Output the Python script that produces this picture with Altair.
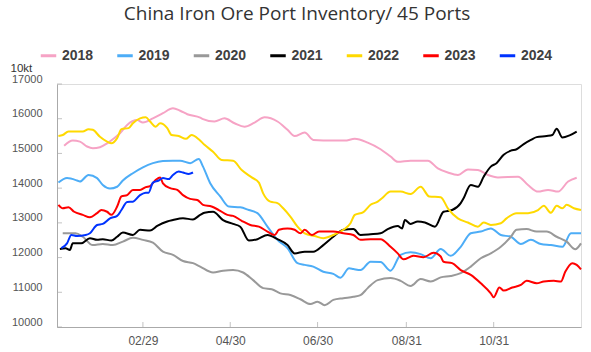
import altair as alt
import pandas as pd

years = ["2018", "2019", "2020", "2021", "2022", "2023", "2024"]
colors = ["#f6a3c5", "#4dadf7", "#999999", "#000000", "#ffd900", "#ff0000", "#0033ff"]

# day offsets since Dec 31 of previous year (Jan 1 = 1), values in 10kt
doy_2018 = [5, 11, 16, 21, 25, 30, 35, 39, 44, 49, 56, 60, 67, 74, 81, 86, 91, 100, 102, 110,
            117, 124, 131, 138, 145, 154, 161, 166, 173, 179, 193, 201, 208, 217, 226, 233, 238, 247, 259, 266,
            273, 280, 287, 294, 301, 308, 322, 329, 336, 343, 350, 357, 363]
val_2018 = [15220, 15370, 15340, 15200, 15150, 15180, 15290, 15410, 15580, 15820, 15960, 15890, 16010, 16160, 16300, 16230, 16130, 16030, 15990, 15920,
            16010, 15870, 15770, 15890, 16040, 15920, 15680, 15500, 15600, 15390, 15370, 15370, 15420, 15310, 15120, 14910, 14760, 14790, 14790, 14570,
            14450, 14380, 14540, 14520, 14380, 14310, 14330, 14090, 13900, 13950, 13900, 14190, 14300]

doy_2019 = [1, 7, 14, 16, 22, 28, 32, 37, 42, 46, 53, 60, 67, 74, 81, 86, 93, 99, 102, 107,
            114, 120, 128, 134, 140, 147, 154, 161, 168, 173, 179, 186, 193, 198, 204, 207, 212, 219, 226, 233,
            240, 247, 254, 261, 268, 275, 282, 289, 296, 303, 310, 317, 324, 331, 338, 345, 353, 359, 366]
val_2019 = [14160, 14290, 14220, 14190, 14380, 14290, 14090, 13990, 14040, 14220, 14430, 14600, 14720, 14780, 14790, 14790, 14720, 14840, 14620, 14140,
            13760, 13470, 13450, 13370, 13280, 12890, 12510, 12270, 11840, 11790, 11740, 11590, 11530, 11420, 11690, 11670, 11640, 11880, 11870, 11620,
            12080, 12150, 12100, 11980, 12250, 12050, 12310, 12700, 12750, 12840, 12650, 12600, 12390, 12510, 12390, 12360, 12310, 12700, 12700]

doy_2020 = [4, 13, 18, 25, 32, 39, 46, 53, 60, 67, 74, 81, 88, 95, 100, 109, 116, 123, 130, 137,
            144, 150, 156, 163, 170, 177, 182, 187, 193, 200, 207, 212, 217, 224, 233, 240, 247, 254, 261, 268,
            275, 282, 289, 296, 303, 310, 317, 321, 328, 335, 342, 349, 356, 362, 366]
val_2020 = [12700, 12700, 12600, 12360, 12390, 12360, 12460, 12570, 12510, 12430, 12170, 12080, 11900, 11840, 11740, 11570, 11620, 11640, 11570, 11350,
            11120, 11090, 10970, 10920, 10800, 10660, 10730, 10630, 10780, 10830, 10870, 10920, 11120, 11350, 11410, 11330, 11180, 11380, 11310, 11430,
            11470, 11550, 11740, 11980, 12120, 12310, 12600, 12800, 12820, 12750, 12750, 12600, 12460, 12240, 12410]

doy_2021 = [2, 6, 9, 11, 17, 23, 28, 32, 38, 42, 46, 53, 58, 65, 70, 77, 81, 88, 95, 100,
            103, 109, 116, 123, 128, 134, 140, 147, 154, 161, 166, 173, 179, 186, 193, 200, 207, 212, 219, 226,
            231, 238, 241, 243, 247, 252, 257, 264, 270, 276, 282, 284, 289, 294, 298, 303, 307, 312, 317, 321,
            326, 331, 335, 342, 346, 349, 353, 358, 363]
val_2021 = [12250, 12270, 12220, 12410, 12410, 12560, 12510, 12530, 12490, 12600, 12720, 12650, 12800, 12780, 12910, 13040, 13080, 13130, 13100, 13230,
            13290, 13320, 13080, 12970, 12890, 12490, 12530, 12650, 12530, 12360, 12120, 12170, 12170, 12360, 12600, 12800, 12820, 12650, 12670, 12700,
            12820, 12910, 12840, 13080, 12970, 13040, 13010, 12890, 13320, 13370, 13570, 13710, 14090, 14040, 14330, 14620, 14720, 14960, 15080, 15120,
            15270, 15390, 15470, 15500, 15530, 15710, 15460, 15520, 15630]

doy_2022 = [1, 4, 8, 14, 18, 22, 25, 30, 35, 38, 42, 45, 50, 53, 58, 62, 65, 69, 72, 77,
            80, 85, 90, 94, 99, 103, 109, 115, 123, 129, 136, 141, 144, 149, 154, 158, 163, 168, 173, 180,
            186, 193, 200, 205, 208, 214, 219, 224, 227, 233, 240, 247, 254, 260, 268, 273, 280, 287, 294, 298,
            303, 310, 314, 321, 329, 336, 340, 345, 349, 353, 356, 361, 366]
val_2022 = [15500, 15530, 15630, 15630, 15630, 15700, 15680, 15480, 15340, 15290, 15440, 15700, 15730, 15870, 16010, 16040, 15920, 15770, 15870, 15730,
            15530, 15500, 15420, 15530, 15410, 15250, 15050, 14810, 14790, 14520, 14310, 14160, 13850, 13610, 13570, 13420, 13180, 12890, 12700, 12620,
            12560, 12650, 12800, 12990, 13230, 13310, 13520, 13610, 13710, 13900, 13900, 13830, 14040, 13760, 13740, 13420, 13130, 13010, 12890, 13010,
            12940, 12990, 13130, 13280, 13280, 13370, 13490, 13290, 13490, 13420, 13520, 13420, 13370]

doy_2023 = [1, 4, 8, 12, 18, 23, 28, 31, 35, 38, 42, 45, 49, 53, 58, 62, 65, 69, 72, 74,
            79, 84, 88, 93, 98, 102, 108, 113, 119, 123, 129, 135, 141, 147, 152, 155, 161, 166, 170, 173,
            178, 183, 187, 193, 200, 207, 212, 219, 226, 233, 238, 242, 249, 256, 263, 268, 270, 276, 282, 289,
            296, 303, 305, 309, 312, 318, 324, 328, 335, 340, 347, 352, 355, 360, 363, 366]
val_2023 = [13520, 13420, 13450, 13320, 13230, 13160, 13280, 13370, 13320, 13230, 13470, 13760, 13800, 13950, 13950, 14030, 14060, 14240, 14310, 14140,
            14000, 13950, 13800, 13690, 13660, 13520, 13470, 13370, 13230, 13200, 13060, 12940, 12890, 12750, 12650, 12800, 12840, 12800, 12700, 12800,
            12650, 12750, 12750, 12750, 12700, 12650, 12510, 12530, 12530, 12310, 12120, 11950, 12050, 12010, 12140, 12030, 11880, 11840, 11640, 11500,
            11260, 10970, 10860, 11140, 11050, 11140, 11210, 11330, 11260, 11310, 11330, 11310, 11590, 11840, 11790, 11660]

doy_2024 = [3, 7, 10, 14, 20, 23, 28, 32, 37, 42, 45, 49, 53, 58, 62, 64, 67, 71, 74, 78, 81, 85, 88, 92, 95]
val_2024 = [12270, 12410, 12650, 12620, 12650, 12700, 12940, 12970, 13130, 13200, 13370, 13600, 13610, 13800, 13870, 13870, 14160, 14220, 14290, 14260,
            14380, 14480, 14450, 14410, 14450]

y_ticks = [10000, 11000, 12000, 13000, 14000, 15000, 16000, 17000]
x_tick_dates = ["2024-02-29", "2024-04-30", "2024-06-30", "2024-08-31", "2024-10-31"]

series = [("2018", doy_2018, val_2018), ("2019", doy_2019, val_2019), ("2020", doy_2020, val_2020),
          ("2021", doy_2021, val_2021), ("2022", doy_2022, val_2022), ("2023", doy_2023, val_2023),
          ("2024", doy_2024, val_2024)]

base = pd.Timestamp("2023-12-31")
rows = []
for yr, days, vals in series:
    for d, v in zip(days, vals):
        rows.append({"year": yr, "date": (base + pd.Timedelta(days=d)).strftime("%Y-%m-%d"), "value": v})
df = pd.DataFrame(rows)

W, H = 524, 243
LABEL_FONT = "Liberation Sans"

x_enc = alt.X(
    "date:T",
    scale=alt.Scale(type="utc", domain=[alt.DateTime(year=2023, month=12, date=31, utc=True),
                                        alt.DateTime(year=2024, month=12, date=31, utc=True)]),
    axis=alt.Axis(
        title=None, values=[alt.DateTime(year=int(s[:4]), month=int(s[5:7]), date=int(s[8:]), utc=True) for s in x_tick_dates],
        labelExpr="utcFormat(datum.value, '%m/%d')", grid=False, ticks=False, tickSize=0,
        domainColor="#aaaaaa", labelColor="#555555", labelFont=LABEL_FONT, labelFontSize=12,
        labelPadding=8,
    ),
)
y_enc = alt.Y(
    "value:Q",
    scale=alt.Scale(domain=[10000, 17000], nice=False, zero=False),
    axis=alt.Axis(
        title="10kt", titleAngle=0, titleAlign="left", titleBaseline="middle", titleX=-47, titleY=-16,
        titleFont=LABEL_FONT, titleFontSize=11.5, titleFontWeight="normal", titleColor="#333333",
        values=y_ticks, format="d", grid=False, ticks=False, tickSize=0,
        domainColor="#aaaaaa", labelColor="#555555", labelFont=LABEL_FONT, labelFontSize=11,
        labelPadding=15, labelOffset=-5,
    ),
)

lines = alt.Chart(df).mark_line(strokeWidth=2, interpolate="monotone").encode(
    x=x_enc,
    y=y_enc,
    color=alt.Color(
        "year:N",
        scale=alt.Scale(domain=years, range=colors),
        legend=alt.Legend(
            title=None, orient="none", legendX=-18, legendY=-38, direction="horizontal", columns=7,
            symbolType="stroke", symbolStrokeWidth=3, symbolSize=240,
            labelFont=LABEL_FONT, labelFontSize=14, labelFontWeight="bold", labelColor="#404040",
            labelOffset=4, columnPadding=16.5, padding=0,
        ),
    ),
)

ytick_df = pd.DataFrame({"value": y_ticks})
yticks = alt.Chart(ytick_df).mark_tick(orient="horizontal", color="#aaaaaa", thickness=1, size=5).encode(
    y=y_enc, x=alt.value(2.5)
)
xtick_df = pd.DataFrame({"date": x_tick_dates})
xticks = alt.Chart(xtick_df).mark_tick(orient="vertical", color="#aaaaaa", thickness=1, size=5).encode(
    x=x_enc, y=alt.value(H - 2.5)
)

chart = alt.layer(yticks, xticks, lines).properties(
    width=W, height=H,
    title=alt.TitleParams(
        "China Iron Ore Port Inventory/ 45 Ports", font="Open Sans", fontSize=19, fontWeight="normal",
        color="#333333", anchor="middle", dx=-22, offset=22,
    ),
    autosize=alt.AutoSizeParams(type="none"),
    padding={"left": 57, "top": 84, "right": 10, "bottom": 25},
).configure_view(stroke=None).configure(background="white")

chart.save("out.html", embed_options={"renderer": "svg", "actions": False})
